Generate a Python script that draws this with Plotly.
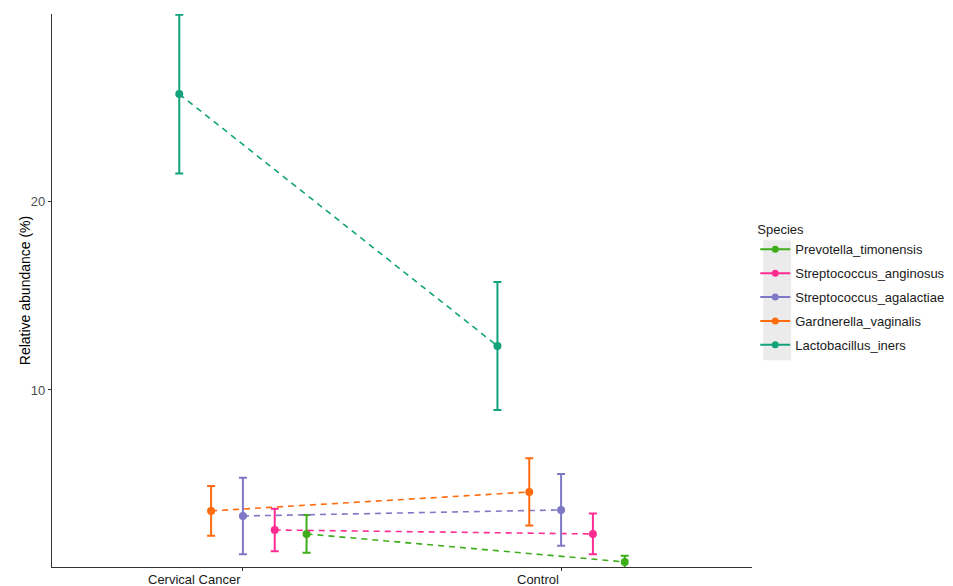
import plotly.graph_objects as go

# Groups on the x axis and species drawn in each group
groups = ["Cervical Cancer", "Control"]
species = ["Prevotella_timonensis", "Streptococcus_anginosus",
           "Streptococcus_agalactiae", "Gardnerella_vaginalis", "Lactobacillus_iners"]

# Mean relative abundance (%) per species: [Cervical Cancer, Control]
mean_prevotella = [2.38, 0.90]
mean_anginosus = [2.59, 2.38]
mean_agalactiae = [3.33, 3.65]
mean_gardnerella = [3.60, 4.60]
mean_lactobacillus = [25.66, 12.33]

# Error bar half-widths
err_prevotella = [1.00, 0.32]
err_anginosus = [1.12, 1.08]
err_agalactiae = [2.03, 1.90]
err_gardnerella = [1.32, 1.78]
err_lactobacillus = [4.20, 3.39]

means = [mean_prevotella, mean_anginosus, mean_agalactiae, mean_gardnerella, mean_lactobacillus]
errs = [err_prevotella, err_anginosus, err_agalactiae, err_gardnerella, err_lactobacillus]
colors = ["#3DAE1A", "#FF2D92", "#7F78C6", "#FF6B0F", "#12A37B"]
dodge = [0.2, 0.1, 0.0, -0.1, -0.2]

fig = go.Figure()
for name, m, e, c, d in zip(species, means, errs, colors, dodge):
    xs = [i + 1 + d for i in range(len(groups))]
    fig.add_trace(go.Scatter(
        x=xs, y=m, mode="lines+markers", name=name, showlegend=False,
        line=dict(color=c, width=1.6, dash="6px,5px"),
        marker=dict(color=c, size=8),
        error_y=dict(type="data", array=e, visible=True, color=c,
                     thickness=2, width=4),
    ))

# Legend keys drawn with solid lines
for name, c in zip(species, colors):
    fig.add_trace(go.Scatter(
        x=[None], y=[None], mode="lines+markers", name=name, legendgroup=name,
        line=dict(color=c, width=2), marker=dict(color=c, size=7),
    ))

# Category labels, right-aligned to their tick marks
for i, g in enumerate(groups):
    fig.add_annotation(x=i + 1, y=0, xref="x", yref="paper", text=g,
                       showarrow=False, xanchor="right", yanchor="top",
                       yshift=-3, font=dict(size=13, color="#1a1a1a"))

# Y axis title
fig.add_annotation(x=-0.039, y=0.5, xref="paper", yref="paper",
                   text="Relative abundance (%)", textangle=-90,
                   showarrow=False, xanchor="center", yanchor="middle",
                   font=dict(size=14, color="#000000"))

# Grey background behind the legend keys
fig.add_shape(type="rect", xref="paper", yref="paper",
              x0=1.016, x1=1.056, y0=0.374, y1=0.591,
              fillcolor="#EBEBEB", line=dict(width=0), layer="below")

fig.update_layout(
    width=953, height=586,
    margin=dict(l=52, r=201, t=14, b=19, autoexpand=False),
    plot_bgcolor="white", paper_bgcolor="white",
    font=dict(family="Liberation Sans, Arial, sans-serif", size=13, color="#1a1a1a"),
    xaxis=dict(range=[0.4, 2.6], tickvals=[1, 2], ticktext=["", ""],
               showgrid=False, zeroline=False, showline=True,
               linecolor="#333333", linewidth=1.2,
               ticks="outside", ticklen=3, tickcolor="#333333"),
    yaxis=dict(range=[0.63, 29.9], tickvals=[10, 20],
               showgrid=False, zeroline=False, showline=True,
               linecolor="#333333", linewidth=1.2,
               ticks="outside", ticklen=3, tickcolor="#333333",
               tickfont=dict(size=13, color="#4d4d4d")),
    legend=dict(xref="container", yref="container", x=0.7925, y=0.629,
                xanchor="left", yanchor="top",
                title=dict(text="Species", font=dict(size=13)),
                font=dict(size=13), bgcolor="rgba(0,0,0,0)",
                itemwidth=30, tracegroupgap=4),
)

fig.write_html("out.html")
